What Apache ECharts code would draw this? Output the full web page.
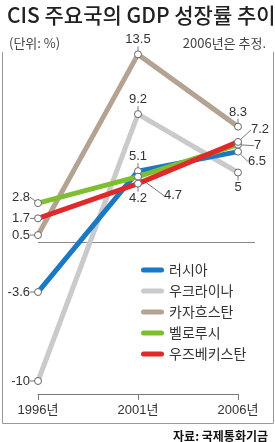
<!DOCTYPE html>
<html><head><meta charset="utf-8">
<script src="https://cdn.jsdelivr.net/npm/echarts@6/dist/echarts.min.js"></script>
<style>html,body{margin:0;padding:0;background:#fff}#c{width:275px;height:442px}</style>
</head><body><div id="c"></div>
<script>
var years = [1996, 2001, 2006];
var yearLabels = ['1996년', '2001년', '2006년'];
var names = ['러시아', '우크라이나', '카자흐스탄', '벨로루시', '우즈베키스탄'];
var russia = [-3.6, 5.1, 6.5];
var ukraine = [-10, 9.2, 5];
var kazakhstan = [0.5, 13.5, 8.3];
var belarus = [2.8, 4.7, 7];
var uzbekistan = [1.7, 4.2, 7.2];
var colors = ['#1b79c3', '#cacaca', '#b4a392', '#7dbf2f', '#e3282a'];

var FONT = '"Liberation Sans", "Noto Sans CJK KR", sans-serif';
var KFONT = '"Noto Sans CJK KR", sans-serif';

var labelPos = {
  '러시아': ['left', 'top', 'right'],
  '우크라이나': ['left', 'top', 'bottom'],
  '카자흐스탄': ['left', 'top', 'top'],
  '벨로루시': ['left', 'right', 'right'],
  '우즈베키스탄': ['left', 'bottom', 'right']
};
var labelShift = {
  '러시아': [[0,0],[0,0],[2,10]],
  '우크라이나': [[0,0],[0,0],[0,0]],
  '카자흐스탄': [[0,0],[0,0],[0,0]],
  '벨로루시': [[0,-6],[18,19],[8,1]],
  '우즈베키스탄': [[0,0],[0,0],[5,-12]]
};

function mk(name, vals, color) {
  return {
    name: name, type: 'line', xAxisIndex: 0, yAxisIndex: 0,
    data: vals.map(function (v, i) {
      return { value: [years[i], v], label: { position: labelPos[name][i] } };
    }),
    symbol: 'circle', symbolSize: 7,
    lineStyle: { color: color, width: 5 },
    itemStyle: { color: '#fff', borderColor: '#666', borderWidth: 1 },
    label: {
      show: true, distance: 4, fontFamily: FONT, fontSize: 13, color: '#333',
      formatter: function (p) { return String(p.value[1]); }
    },
    labelLine: { show: true, lineStyle: { color: '#555', width: 0.8 } },
    labelLayout: function (p) {
      var s = labelShift[name][p.dataIndex];
      return { dx: s[0], dy: s[1] };
    },
    z: 3
  };
}

var order = [1, 2, 0, 3, 4];
var all = [russia, ukraine, kazakhstan, belarus, uzbekistan];
var series = order.map(function (k) { return mk(names[k], all[k], colors[k]); });
series[0].markLine = {
  silent: true, symbol: 'none', label: { show: false },
  lineStyle: { color: '#888', width: 1, type: 'solid' },
  data: [{ yAxis: 0 }], z: 1
};
series.push({
  type: 'line', xAxisIndex: 1, yAxisIndex: 1, data: [], silent: true
});

var chart = echarts.init(document.getElementById('c'));
chart.setOption({
  animation: false,
  title: [
    { text: 'CIS 주요국의 GDP 성장률 추이', left: 2, top: 0,
      textStyle: { fontFamily: KFONT, fontSize: 21, fontWeight: 500, color: '#222' } },
    { text: '(단위: %)', left: 4, top: 32,
      textStyle: { fontFamily: KFONT, fontSize: 13, fontWeight: 'normal', color: '#444' } },
    { text: '2006년은 추정.', right: 4, top: 32,
      textStyle: { fontFamily: KFONT, fontSize: 13, fontWeight: 'normal', color: '#444' } },
    { text: '자료: 국제통화기금', right: 2, top: 425,
      textStyle: { fontFamily: KFONT, fontSize: 12, fontWeight: 'bold', color: '#111' } }
  ],
  legend: {
    orient: 'vertical', left: 136, top: 257, itemWidth: 23, itemHeight: 5, itemGap: 5,
    icon: 'path://M2.5,0H20.5A2.5,2.5,0,0,1,20.5,5H2.5A2.5,2.5,0,0,1,2.5,0Z',
    textStyle: { fontFamily: KFONT, fontSize: 14, color: '#333', lineHeight: 16 },
    data: names.map(function (n, i) { return { name: n, itemStyle: { color: colors[i], borderWidth: 0 } }; })
  },
  grid: [
    { left: 38, right: 20, top: 47.4, bottom: 47.1 },
    { left: 38, right: 37, top: 393, height: 1 }
  ],
  xAxis: [
    { type: 'value', gridIndex: 0, min: 1996, max: 2006.85, show: false },
    { type: 'category', gridIndex: 1, data: yearLabels, boundaryGap: false, position: 'bottom',
      axisLine: { lineStyle: { color: '#777', width: 1 } },
      axisTick: { show: true, length: 6, lineStyle: { color: '#777' } },
      axisLabel: { margin: 10, fontFamily: FONT, fontSize: 13, color: '#333' } }
  ],
  yAxis: [
    { type: 'value', gridIndex: 0, min: -11, max: 14, show: false },
    { type: 'value', gridIndex: 1, show: false }
  ],
  graphic: [{
    type: 'polyline', silent: true,
    shape: { points: [[2.5, 52], [2.5, 423.5], [273.5, 423.5], [273.5, 52]] },
    style: { stroke: '#999', lineWidth: 1, fill: null }
  }],
  series: series
});
</script></body></html>
